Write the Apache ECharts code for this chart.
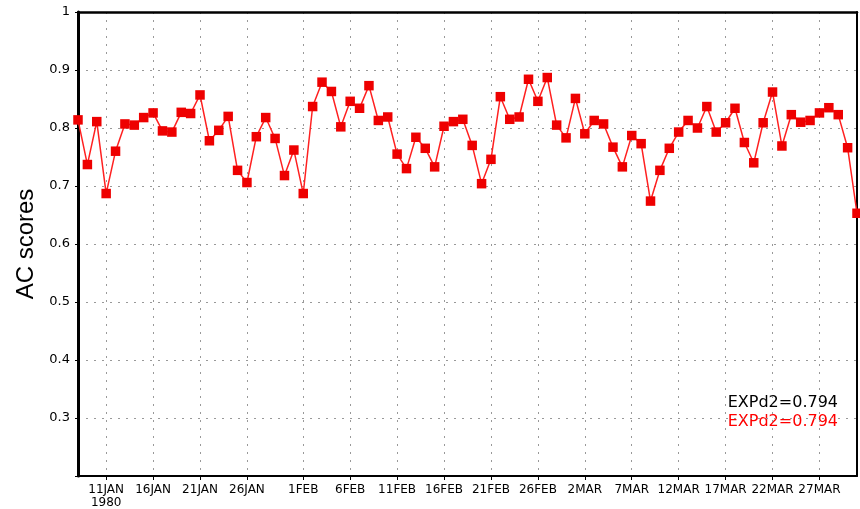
<!DOCTYPE html>
<html>
<head>
<meta charset="utf-8">
<script src="https://cdn.jsdelivr.net/npm/echarts@6/dist/echarts.min.js"></script>
<style>
	html, body { margin: 0; padding: 0; background: #fff; }
	#chart { width: 860px; height: 509px; }
</style>
</head>
<body>
<div id="chart"></div>
<script>
// daily AC scores, 8 JAN - 31 MAR 1980
var months = [["JAN", 8, 31], ["FEB", 1, 29], ["MAR", 1, 31]];
var tickLabels = ["11JAN", "16JAN", "21JAN", "26JAN", "1FEB", "6FEB", "11FEB", "16FEB",
	"21FEB", "26FEB", "2MAR", "7MAR", "12MAR", "17MAR", "22MAR", "27MAR"];
var yearLabel = "1980";
var acScores = [
	0.814, 0.737, 0.811, 0.687, 0.760, 0.807, 0.805, 0.818, 0.826, 0.795,
	0.793, 0.827, 0.825, 0.857, 0.778, 0.796, 0.820, 0.727, 0.706, 0.785,
	0.818, 0.782, 0.718, 0.762, 0.687, 0.837, 0.879, 0.863, 0.802, 0.846,
	0.834, 0.873, 0.813, 0.819, 0.755, 0.730, 0.784, 0.765, 0.733, 0.803,
	0.811, 0.815, 0.770, 0.704, 0.746, 0.854, 0.815, 0.819, 0.884, 0.846,
	0.887, 0.805, 0.783, 0.851, 0.790, 0.813, 0.807, 0.767, 0.733, 0.787,
	0.773, 0.674, 0.727, 0.765, 0.793, 0.813, 0.800, 0.837, 0.793, 0.809,
	0.834, 0.775, 0.740, 0.809, 0.862, 0.769, 0.823, 0.810, 0.813, 0.826,
	0.835, 0.823, 0.766, 0.653
];
var legendLines = [
	{ text: "EXPd2=0.794", color: "#000" },
	{ text: "EXPd2=0.794", color: "#ff0000" }
];

var days = [];
for (var m = 0; m < months.length; m++) {
	for (var d = months[m][1]; d <= months[m][2]; d++) {
		days.push(d + months[m][0]);
	}
}

function isTick(index, value) {
	return tickLabels.indexOf(days[index]) >= 0;
}

var gridLine = { color: "#999", type: [2, 6], width: 1 };

var chart = echarts.init(document.getElementById("chart"));
chart.setOption({
	animation: false,
	grid: {
		left: 78, right: 3, top: 12, bottom: 33
	},
	xAxis: [{
		type: "category",
		data: days,
		boundaryGap: false,
		axisLine: { lineStyle: { color: "#000", width: 2 } },
		axisTick: { interval: isTick, length: 4, lineStyle: { color: "#000" } },
		axisLabel: {
			interval: isTick,
			margin: 7,
			color: "#000",
			fontFamily: "DejaVu Sans",
			fontSize: 12,
			lineHeight: 13,
			formatter: function(v) {
				return v === tickLabels[0] ? v + "\n" + yearLabel : v;
			}
		},
		splitLine: { show: true, interval: isTick, lineStyle: gridLine }
	}, {
		// top frame
		type: "category",
		position: "top",
		data: days,
		boundaryGap: false,
		axisLine: { show: true, onZero: false, lineStyle: { color: "#000", width: 2.5 } },
		axisTick: { show: false },
		axisLabel: { show: false },
		splitLine: { show: false }
	}],
	yAxis: [{
		type: "value",
		min: 0.2,
		max: 1,
		interval: 0.1,
		name: "AC scores",
		nameLocation: "middle",
		nameGap: 38,
		nameTextStyle: { color: "#000", fontFamily: "Liberation Sans", fontSize: 24 },
		axisLine: { show: true, lineStyle: { color: "#000", width: 3 } },
		axisTick: { show: true, length: 3, lineStyle: { color: "#000" } },
		axisLabel: {
			margin: 8,
			color: "#000",
			fontFamily: "DejaVu Sans",
			fontSize: 13,
			formatter: function(v) {
				return v < 0.25 ? "" : String(parseFloat(v.toFixed(1)));
			}
		},
		splitLine: { show: true, lineStyle: gridLine }
	}, {
		// right frame
		type: "value",
		position: "right",
		min: 0.2,
		max: 1,
		axisLine: { show: true, onZero: false, lineStyle: { color: "#000", width: 2 } },
		axisTick: { show: false },
		axisLabel: { show: false },
		splitLine: { show: false }
	}],
	graphic: legendLines.map(function(l, i) {
		return {
			type: "text",
			right: 22,
			top: 395 + i * 19,
			style: {
				text: l.text,
				fill: l.color,
				font: "16px 'DejaVu Sans'"
			}
		};
	}),
	series: [{
		type: "line",
		data: acScores,
		symbol: "rect",
		symbolSize: 9.5,
		showAllSymbol: true,
		itemStyle: { color: "#ee0000" },
		lineStyle: { color: "#ff2020", width: 1.5 }
	}]
});
</script>
</body>
</html>
